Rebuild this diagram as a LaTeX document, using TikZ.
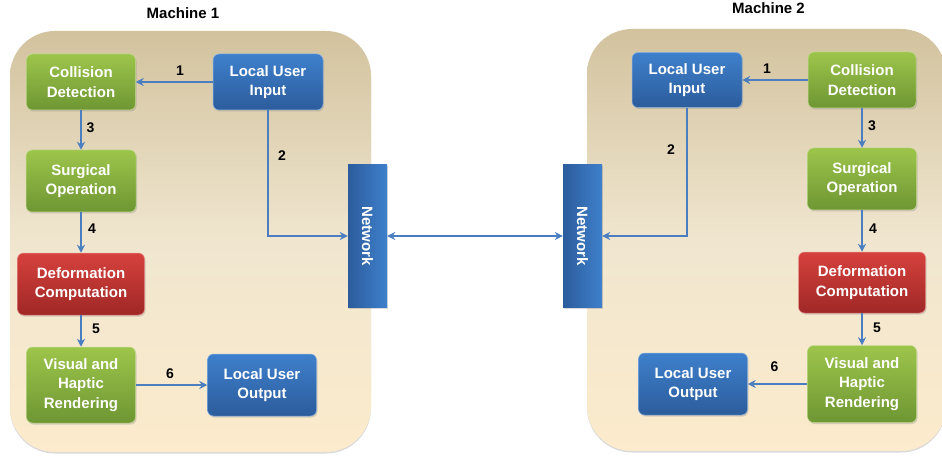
\documentclass[tikz,border=0pt]{standalone}
\usepackage{fontspec}
\usepackage{graphicx}
\setmainfont{Liberation Sans}
\usetikzlibrary{shadows,arrows.meta}
\definecolor{gtop}{HTML}{9DC54B}
\definecolor{gbot}{HTML}{6E9633}
\definecolor{btop}{HTML}{3E80CC}
\definecolor{bbot}{HTML}{2C5C9C}
\definecolor{rtop}{HTML}{D6413D}
\definecolor{rbot}{HTML}{9F2826}
\definecolor{ctop}{HTML}{D2C29E}
\definecolor{cmid}{HTML}{F0E6CF}
\definecolor{cbot}{HTML}{FCEBCC}
\definecolor{arr}{HTML}{4A7EC0}
\tikzset{
  box/.style={rounded corners=6pt, text=white, align=center, inner sep=0pt,
    font=\bfseries\fontsize{15}{19.5}\selectfont,
    drop shadow={shadow xshift=1pt,shadow yshift=-1.5pt,opacity=0.3}},
  greenbox/.style={box, top color=gtop, bottom color=gbot, draw=gtop!60!white, line width=0.5pt},
  bluebox/.style={box, top color=btop, bottom color=bbot, draw=btop!60!white, line width=0.5pt},
  redbox/.style={box, top color=rtop, bottom color=rbot, draw=rtop!60!white, line width=0.5pt},
  netbox/.style={inner sep=0pt, left color=bbot, right color=btop, text=white,
    font=\bfseries\fontsize{15}{18}\selectfont, minimum width=39pt, minimum height=142pt,
    drop shadow={shadow xshift=1pt,shadow yshift=-1.5pt,opacity=0.3}},
  machine/.style={rounded corners=45pt, top color=ctop, bottom color=cbot, middle color=cmid,
    drop shadow={shadow xshift=0pt,shadow yshift=-1.5pt,opacity=0.3}},
  flow/.style={draw=arr, line width=2pt, -{Stealth[length=8pt,width=8pt]}},
  num/.style={font=\bfseries\fontsize{14}{14}\selectfont, text=black, inner sep=0pt},
  title/.style={font=\bfseries\fontsize{15}{15}\selectfont, text=black, inner sep=0pt},
}
\begin{document}
\begin{tikzpicture}[x=1pt,y=-1pt]
\useasboundingbox (0,0) rectangle (942,457);
% containers
\path[machine] (10,31) rectangle (371,452);
\path[machine] (587,29) rectangle (946,451);
\node[title] (t1) at (183,13) {Machine 1};
\node[title] (t2) at (768.5,8) {Machine 2};
% Machine 1
\node[greenbox, minimum width=109pt, minimum height=56pt] (cd1) at (81,82) {Collision\\Detection};
\node[bluebox, minimum width=110pt, minimum height=56pt] (lui1) at (268,82) {Local User\\Input};
\node[greenbox, minimum width=110pt, minimum height=62pt] (so1) at (81,181) {Surgical\\Operation};
\node[redbox, minimum width=127pt, minimum height=62pt] (dc1) at (81,284) {Deformation\\Computation};
\node[greenbox, minimum width=109pt, minimum height=76pt] (vhr1) at (81,385) {Visual and\\Haptic\\Rendering};
\node[bluebox, minimum width=109pt, minimum height=62pt] (luo1) at (262,385) {Local User\\Output};
% Networks
\node[netbox] (net1) at (367.5,236) {\rotatebox{-90}{Network}};
\node[netbox] (net2) at (582.5,236) {\rotatebox{-90}{Network}};
% Machine 2
\node[bluebox, minimum width=110pt, minimum height=55pt] (lui2) at (687,80) {Local User\\Input};
\node[greenbox, minimum width=108pt, minimum height=56pt] (cd2) at (862,80) {Collision\\Detection};
\node[greenbox, minimum width=109pt, minimum height=62pt] (so2) at (862,179) {Surgical\\Operation};
\node[redbox, minimum width=127pt, minimum height=61pt] (dc2) at (862,282.5) {Deformation\\Computation};
\node[greenbox, minimum width=109pt, minimum height=77pt] (vhr2) at (862,384) {Visual and\\Haptic\\Rendering};
\node[bluebox, minimum width=109pt, minimum height=62pt] (luo2) at (693,384) {Local User\\Output};
% arrows machine 1
\draw[flow] (lui1.west) -- (cd1.east |- lui1.west);
\draw[flow] (cd1.south) -- (cd1.south |- so1.north);
\draw[flow] (lui1.south) |- (net1.west);
\draw[flow] (so1.south) -- (so1.south |- dc1.north);
\draw[flow] (dc1.south) -- (dc1.south |- vhr1.north);
\draw[flow] (vhr1.east) -- (luo1.west |- vhr1.east);
% network link
\draw[flow, {Stealth[length=8pt,width=8pt]}-{Stealth[length=8pt,width=8pt]}] (net1.east) -- (net2.west);
% arrows machine 2
\draw[flow] (cd2.west) -- (lui2.east |- cd2.west);
\draw[flow] (cd2.south) -- (cd2.south |- so2.north);
\draw[flow] (lui2.south) |- (net2.east);
\draw[flow] (so2.south) -- (so2.south |- dc2.north);
\draw[flow] (dc2.south) -- (dc2.south |- vhr2.north);
\draw[flow] (vhr2.west) -- (luo2.east |- vhr2.west);
% labels
\node[num] (n1a) at (180,71) {1};
\node[num] (n2a) at (282,156) {2};
\node[num] (n3a) at (90.5,128) {3};
\node[num] (n4a) at (92,229) {4};
\node[num] (n5a) at (96,329) {5};
\node[num] (n6a) at (170,374) {6};
\node[num] (n1b) at (767,69) {1};
\node[num] (n2b) at (671,150) {2};
\node[num] (n3b) at (872,126) {3};
\node[num] (n4b) at (873,229) {4};
\node[num] (n5b) at (877,328) {5};
\node[num] (n6b) at (774.5,367) {6};
\end{tikzpicture}
\end{document}
